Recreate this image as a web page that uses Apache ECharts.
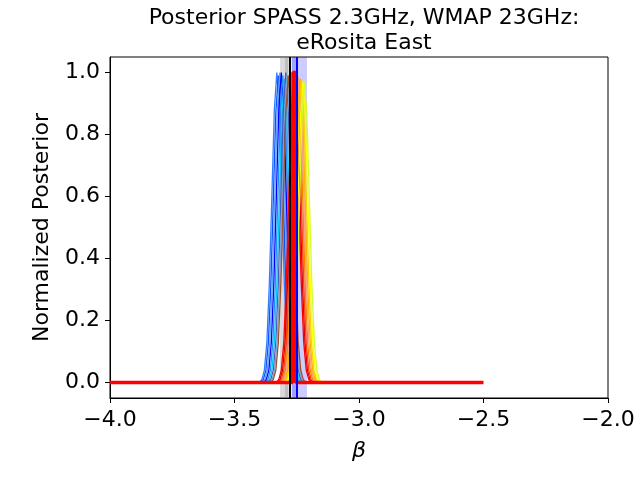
<!DOCTYPE html>
<html lang="en">
<head>
    <meta charset="UTF-8">
    <title>Posterior SPASS 2.3GHz, WMAP 23GHz: eRosita East</title>
    <script src="https://cdn.jsdelivr.net/npm/echarts@6/dist/echarts.min.js"></script>
    <style>
        html, body { margin: 0; padding: 0; background: #fff; }
    </style>
</head>
<body>
<div id="main" style="width: 640px;height: 480px;"></div>

<script type="text/javascript">
    // tick labels
    var xTicks = [-4.0, -3.5, -3.0, -2.5, -2.0];
    var yTicks = [0.0, 0.2, 0.4, 0.6, 0.8, 1.0];

    // shape of one posterior (offset from peak, relative height)
    var profileDx = [-0.07, -0.06, -0.05, -0.04, -0.03, -0.02, -0.01, 0, 0.01, 0.02, 0.03, 0.04, 0.05, 0.06, 0.07];
    var profileY = [0.0, 0.01, 0.04, 0.13, 0.32, 0.60, 0.88, 1.0, 0.88, 0.60, 0.32, 0.13, 0.04, 0.01, 0.0];

    // peak position, peak height and colour of each thin curve
    var curveCenters = [-3.330, -3.324, -3.318, -3.312, -3.306, -3.300, -3.294, -3.289, -3.284,
                        -3.262, -3.257, -3.252, -3.246, -3.241, -3.236, -3.231, -3.225, -3.219];
    var curvePeaks = [1.00, 0.99, 1.00, 1.00, 0.99, 0.98, 1.00, 0.99, 0.99,
                      1.00, 0.99, 0.99, 0.99, 0.98, 0.98, 0.98, 0.97, 0.97];
    var curveColors = ['#2f7fff', '#0a50ff', '#5aa0ff', '#0000ff', '#1e90ff', '#00c8ff', '#4060c0', '#7f9fd0', '#a0522d',
                       '#ff0000', '#e00000', '#ff4000', '#ff8000', '#ffa07a', '#ffb000', '#ffd000', '#ffff00', '#d0ff30'];

    // combined posterior (red)
    var redX = [-4.0, -3.267, -3.265, -3.255, -3.253, -2.5];
    var redY = [0.0, 0.0, 1.0, 1.0, 0.0, 0.0];

    // vertical markers and shaded ranges
    var blackLineX = -3.283;
    var blueLineX = -3.249;
    var grayBands = [[-3.317, -3.283], [-3.297, -3.283]];
    var blueBands = [[-3.270, -3.209], [-3.270, -3.249]];

    var font = 'DejaVu Sans';
    var myChart = echarts.init(document.getElementById('main'), null, {renderer: 'canvas'});

    function fmt(v) {
        return v.toFixed(1).replace('-', '\u2212');
    }

    var series = [];

    // shaded bands, behind everything
    series.push({
        type: 'line',
        data: [],
        silent: true,
        z: 1,
        markArea: {
            silent: true,
            itemStyle: {color: 'rgba(128,128,128,0.3)'},
            data: grayBands.map(function (b) { return [{xAxis: b[0]}, {xAxis: b[1]}]; })
        }
    });
    series.push({
        type: 'line',
        data: [],
        silent: true,
        z: 1,
        markArea: {
            silent: true,
            itemStyle: {color: 'rgba(0,0,255,0.2)'},
            data: blueBands.map(function (b) { return [{xAxis: b[0]}, {xAxis: b[1]}]; })
        }
    });

    // thin posteriors
    curveCenters.forEach(function (c, i) {
        var pts = profileDx.map(function (d, k) {
            return [c + d, profileY[k] * curvePeaks[i]];
        });
        series.push({
            type: 'line',
            data: pts,
            showSymbol: false,
            silent: true,
            z: 2,
            lineStyle: {color: curveColors[i], width: 1.3}
        });
    });

    // black and blue vertical lines
    series.push({
        type: 'line',
        data: [],
        silent: true,
        z: 3,
        markLine: {
            silent: true,
            symbol: 'none',
            label: {show: false},
            data: [
                {xAxis: blackLineX, lineStyle: {color: '#000', width: 2, type: 'solid'}},
                {xAxis: blueLineX, lineStyle: {color: '#0000ff', width: 2, type: 'solid'}}
            ]
        }
    });

    // red combined posterior
    series.push({
        type: 'line',
        data: redX.map(function (x, k) { return [x, redY[k]]; }),
        showSymbol: false,
        silent: true,
        z: 4,
        lineStyle: {color: '#ff0000', width: 3.5}
    });

    var option = {
        animation: false,
        backgroundColor: '#fff',
        title: {
            text: 'Posterior SPASS 2.3GHz, WMAP 23GHz:\neRosita East',
            left: 359,
            top: 1,
            textAlign: 'center',
            textStyle: {
                fontFamily: font,
                fontSize: 22,
                fontWeight: 'normal',
                color: '#000',
                lineHeight: 25,
                align: 'center'
            }
        },
        grid: {
            left: 110,
            right: 32,
            top: 57,
            bottom: 82,
            show: true,
            borderColor: '#000',
            borderWidth: 1,
            backgroundColor: 'transparent'
        },
        xAxis: {
            type: 'value',
            min: -4,
            max: -2,
            interval: 0.5,
            name: 'β',
            nameLocation: 'middle',
            nameGap: 42,
            nameTextStyle: {fontFamily: font, fontSize: 22, fontStyle: 'italic', color: '#000'},
            axisLine: {show: true, onZero: false, lineStyle: {color: '#000', width: 1}},
            axisTick: {show: true, inside: false, length: 5, lineStyle: {color: '#000', width: 1}},
            axisLabel: {
                fontFamily: font, fontSize: 22, color: '#000', margin: 11,
                customValues: xTicks,
                formatter: fmt
            },
            splitLine: {show: false}
        },
        yAxis: {
            type: 'value',
            min: -0.05,
            max: 1.05,
            name: 'Normalized Posterior',
            nameLocation: 'middle',
            nameGap: 57,
            nameTextStyle: {fontFamily: font, fontSize: 22, color: '#000'},
            axisLine: {show: true, onZero: false, lineStyle: {color: '#000', width: 1}},
            axisTick: {show: true, inside: false, length: 5, customValues: yTicks, lineStyle: {color: '#000', width: 1}},
            axisLabel: {
                fontFamily: font, fontSize: 22, color: '#000', margin: 10,
                customValues: yTicks,
                formatter: fmt
            },
            splitLine: {show: false}
        },
        series: series
    };

    myChart.setOption(option);
</script>
</body>
</html>
